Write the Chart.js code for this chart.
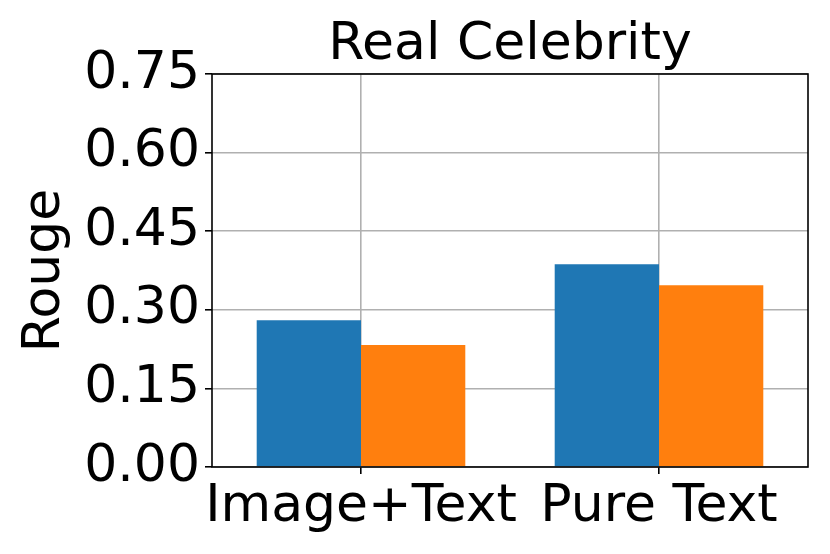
<!DOCTYPE html>
<html>
<head>
<meta charset="utf-8">
<script src="https://cdn.jsdelivr.net/npm/chart.js@4"></script>
<style>
html,body{margin:0;padding:0;background:#fff;}
#wrap{width:830px;height:554px;}
</style>
</head>
<body>
<div id="wrap"><canvas id="c" width="830" height="554"></canvas></div>
<script>
const categories = ['Image+Text', 'Pure Text'];
const seriesA = [0.280, 0.387];
const seriesB = [0.233, 0.347];
const yTicks = [0.00, 0.15, 0.30, 0.45, 0.60, 0.75];
const titleText = 'Real Celebrity';
const yLabel = 'Rouge';

const FONT = "'DejaVu Sans', sans-serif";

const frame = {
  id: 'frame',
  afterDraw(chart) {
    const a = chart.chartArea, ctx = chart.ctx;
    ctx.save();
    ctx.strokeStyle = '#000';
    ctx.lineWidth = 1.6;
    ctx.strokeRect(a.left, a.top, a.right - a.left, a.bottom - a.top);
    ctx.restore();
  }
};

new Chart(document.getElementById('c'), {
  type: 'bar',
  data: {
    labels: categories,
    datasets: [
      { data: seriesA, backgroundColor: '#1f77b4', borderWidth: 0 },
      { data: seriesB, backgroundColor: '#ff7f0e', borderWidth: 0 }
    ]
  },
  options: {
    responsive: false,
    animation: false,
    devicePixelRatio: 1,
    layout: { padding: { left: 0, right: 22, top: 0, bottom: 0 } },
    datasets: { bar: { categoryPercentage: 0.7, barPercentage: 1.0 } },
    plugins: {
      legend: { display: false },
      tooltip: { enabled: false },
      title: {
        display: true,
        fullSize: false,
        text: titleText,
        color: '#000',
        font: { family: FONT, size: 52, weight: 'normal', lineHeight: 1.0 },
        padding: { top: 19, bottom: 3 }
      }
    },
    scales: {
      x: {
        z: 1,
        grid: { offset: false, color: '#b0b0b0', lineWidth: 1.6, tickColor: '#000', tickLength: 7, drawOnChartArea: true },
        border: { display: false },
        ticks: { color: '#000', font: { family: FONT, size: 52 }, padding: 2, maxRotation: 0, autoSkip: false },
        afterFit(s) { s.height = 87; }
      },
      y: {
        z: 1,
        min: 0, max: 0.75,
        afterBuildTicks(s) { s.ticks = yTicks.map(v => ({ value: v })); },
        grid: { color: '#b0b0b0', lineWidth: 1.6, tickColor: '#000', tickLength: 7 },
        border: { display: false },
        ticks: { color: '#000', font: { family: FONT, size: 52 }, padding: 5, callback: v => Number(v).toFixed(2) },
        title: { display: true, text: yLabel, color: '#000', font: { family: FONT, size: 52 }, padding: { top: 14, bottom: 0 } },
        afterFit(s) { s.width = 212; }
      }
    }
  },
  plugins: [frame]
});
</script>
</body>
</html>
